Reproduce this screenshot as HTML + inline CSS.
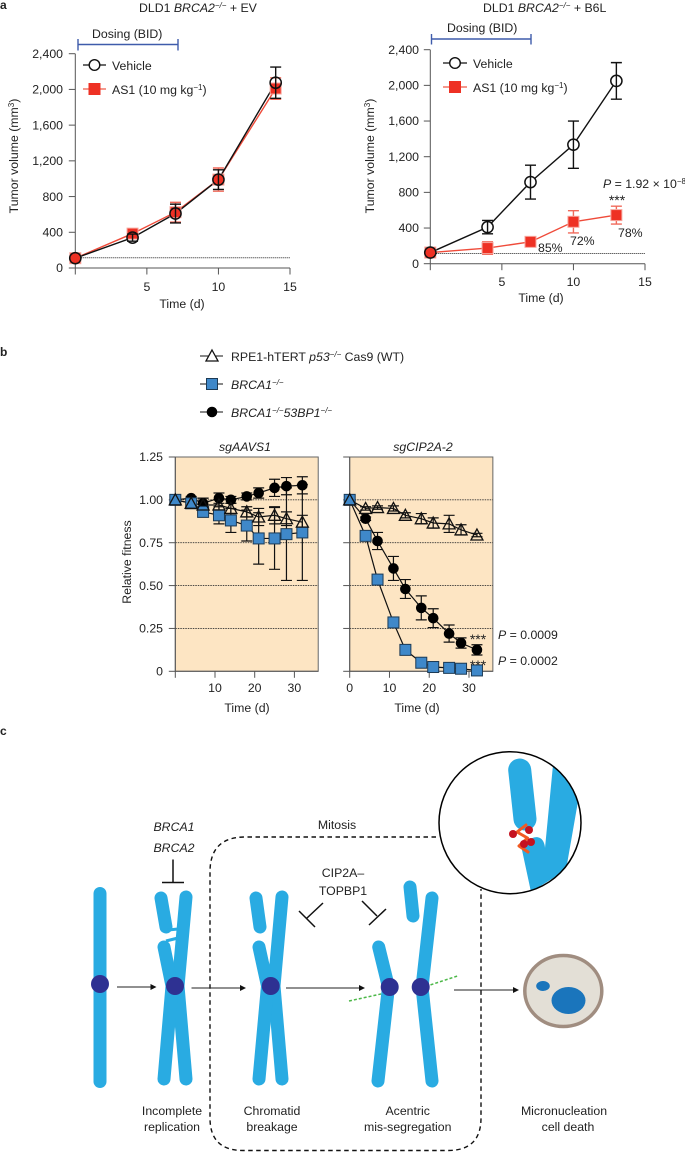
<!DOCTYPE html>
<html lang="en">
<head>
<meta charset="utf-8">
<title>Tumor volume, relative fitness and mitosis model figure</title>
<style>
html,body{margin:0;padding:0;background:#fff;}
body{width:685px;height:1152px;overflow:hidden;}
svg{display:block;font-family:"Liberation Sans",sans-serif;font-size:12.3px;fill:#222;}
text{fill:#222;}
.sup{font-size:8px;}
</style>
</head>
<body>
<svg id="fig" width="685" height="1152" viewBox="0 0 685 1152" xmlns="http://www.w3.org/2000/svg">
  <rect x="0" y="0" width="685" height="1152" fill="#fff"/>

  <text x="0" y="9" font-weight="bold" font-size="12">a</text>
  <text x="0" y="356" font-weight="bold" font-size="12">b</text>
  <text x="0" y="735" font-weight="bold" font-size="12">c</text>

  <text x="139" y="12">DLD1 <tspan font-style="italic">BRCA2</tspan><tspan class="sup" dy="-4" font-style="italic">−/−</tspan><tspan dy="4"> + EV</tspan></text>
  <text x="483" y="12">DLD1 <tspan font-style="italic">BRCA2</tspan><tspan class="sup" dy="-4" font-style="italic">−/−</tspan><tspan dy="4"> + B6L</tspan></text>

  <text x="92" y="38">Dosing (BID)</text>
  <path d="M78 44.5H178M78 39V50.5M178 39V50.5" fill="none" stroke="#3f5cab" stroke-width="1.4"/>
  <text x="447" y="32">Dosing (BID)</text>
  <path d="M431.5 39H531M431.5 34V44.5M531 34V44.5" fill="none" stroke="#3f5cab" stroke-width="1.4"/>

  <text transform="translate(18 156) rotate(-90)" text-anchor="middle">Tumor volume (mm<tspan class="sup" dy="-4">3</tspan><tspan dy="4">)</tspan></text>
  <text transform="translate(374 156) rotate(-90)" text-anchor="middle">Tumor volume (mm<tspan class="sup" dy="-4">3</tspan><tspan dy="4">)</tspan></text>
  <text x="182" y="308" text-anchor="middle">Time (d)</text>
  <text x="541" y="302" text-anchor="middle">Time (d)</text>

  <g>
    <path d="M83 65H106" stroke="#111" stroke-width="1.3"/>
    <circle cx="94.5" cy="65" r="5.300" fill="#fff" stroke="#111" stroke-width="1.4"/>
    <text x="112" y="70">Vehicle</text>
    <path d="M83 89H106" stroke="#ef5a48" stroke-width="1.3"/>
    <rect x="88.500" y="83" width="12" height="12" fill="#ee3124"/>
    <text x="112" y="94">AS1 (10 mg kg<tspan class="sup" dy="-4">−1</tspan><tspan dy="4">)</tspan></text>
  </g>
  <g>
    <path d="M443 63H467" stroke="#111" stroke-width="1.3"/>
    <circle cx="455" cy="63" r="5.300" fill="#fff" stroke="#111" stroke-width="1.4"/>
    <text x="473" y="68">Vehicle</text>
    <path d="M443 87H467" stroke="#ef5a48" stroke-width="1.3"/>
    <rect x="449" y="81" width="12" height="12" fill="#ee3124"/>
    <text x="473" y="92">AS1 (10 mg kg<tspan class="sup" dy="-4">−1</tspan><tspan dy="4">)</tspan></text>
  </g>

  <text x="603" y="188"><tspan font-style="italic">P</tspan> = 1.92 × 10<tspan class="sup" dy="-4">−8</tspan></text>
  <text x="617" y="205" text-anchor="middle" font-size="14">***</text>
  <text x="538" y="252">85%</text>
  <text x="570" y="245">72%</text>
  <text x="618" y="237">78%</text>

  <g>
    <path d="M200 356H223" stroke="#111" stroke-width="1.1"/>
    <path d="M212 350L218 361H206Z" fill="#fff" stroke="#111" stroke-width="1.3"/>
    <text x="231" y="361">RPE1-hTERT <tspan font-style="italic">p53</tspan><tspan class="sup" dy="-4" font-style="italic">−/−</tspan><tspan dy="4"> Cas9 (WT)</tspan></text>
    <path d="M200 384H223" stroke="#111" stroke-width="1.1"/>
    <rect x="206.500" y="378.500" width="11" height="11" fill="#3f88c9" stroke="#1c3a55" stroke-width="1"/>
    <text x="231" y="389" font-style="italic">BRCA1<tspan class="sup" dy="-4">−/−</tspan></text>
    <path d="M200 412H223" stroke="#111" stroke-width="1.1"/>
    <circle cx="212" cy="412" r="5.300" fill="#000"/>
    <text x="231" y="417" font-style="italic">BRCA1<tspan class="sup" dy="-4">−/−</tspan><tspan dy="4">53BP1</tspan><tspan class="sup" dy="-4">−/−</tspan></text>
  </g>

  <text x="245" y="451" text-anchor="middle" font-style="italic">sgAAVS1</text>
  <text x="423" y="451" text-anchor="middle" font-style="italic">sgCIP2A-2</text>
  <text transform="translate(131 562) rotate(-90)" text-anchor="middle">Relative fitness</text>
  <text x="247" y="712" text-anchor="middle">Time (d)</text>
  <text x="417" y="712" text-anchor="middle">Time (d)</text>
  <g id="charts"></g>
  <text x="478" y="644" text-anchor="middle" font-size="14">***</text>
  <text x="478" y="670" text-anchor="middle" font-size="14">***</text>
  <text x="498" y="639"><tspan font-style="italic">P</tspan> = 0.0009</text>
  <text x="498" y="665"><tspan font-style="italic">P</tspan> = 0.0002</text>

  <!-- Panel c -->
  <g>
    <path d="M436 837H245Q210 837 210 872V1118Q210 1150.500 243 1150.500H448Q481 1150.500 481 1118V889" fill="none" stroke="#111" stroke-width="1.4" stroke-dasharray="4.500 3.500"/>
    <text x="337" y="829" text-anchor="middle">Mitosis</text>

    <g fill="none" stroke="#29abe2" stroke-width="13" stroke-linecap="round">
      <path d="M100 893.500V1081.500"/>
      <circle cx="100" cy="984" r="9" fill="#2e3192" stroke="none"/>
    </g>
    <g fill="none" stroke="#29abe2" stroke-width="13" stroke-linecap="round">
      <path d="M186 897L178 986L186 1079"/>
      <path d="M164 947L172 986L164 1079"/>
      <path d="M161 898L166 927"/>
      <path d="M168 930L178 929" stroke-width="3" stroke-linecap="butt"/>
      <path d="M166 941L178 938" stroke-width="3" stroke-linecap="butt"/>
      <circle cx="175" cy="986" r="9" fill="#2e3192" stroke="none"/>
    </g>
    <g fill="none" stroke="#29abe2" stroke-width="13" stroke-linecap="round">
      <path d="M282 897L274 986L282 1079"/>
      <path d="M259 947L267.500 986L259 1079"/>
      <path d="M256 898L260 927"/>
      <circle cx="270.700" cy="986" r="9" fill="#2e3192" stroke="none"/>
    </g>
    <path d="M349 1001L390 992" fill="none" stroke="#4cb848" stroke-width="1.500" stroke-dasharray="3 2"/>
    <path d="M421 988L459 975.500" fill="none" stroke="#4cb848" stroke-width="1.500" stroke-dasharray="3 2"/>
    <g fill="none" stroke="#29abe2" stroke-width="13" stroke-linecap="round">
      <path d="M378.700 947L388.500 987L378 1081"/>
      <path d="M432 898L422 987L432 1081"/>
      <path d="M410 887L413 916"/>
      <circle cx="389.700" cy="987" r="9" fill="#2e3192" stroke="none"/>
      <circle cx="420.700" cy="987" r="9" fill="#2e3192" stroke="none"/>
    </g>

    <g stroke="#222" stroke-width="1.1" fill="#111">
      <path d="M117 987H154"/>
      <path d="M156.500 987L150.500 984V990Z" stroke="none"/>
      <path d="M191.500 988H243"/>
      <path d="M246 988L240 985V991Z" stroke="none"/>
      <path d="M286 988H362"/>
      <path d="M365 988L359 985V991Z" stroke="none"/>
      <path d="M454 990H516"/>
      <path d="M519 990L513 987V993Z" stroke="none"/>
    </g>

    <g fill="none" stroke="#111" stroke-width="1.500">
      <path d="M173 859.500V882M162 882.500H184"/>
      <path d="M323 903L307 918M299 911L315 927"/>
      <path d="M362 901L377 916M386 909L369 925"/>
    </g>

    <text x="174" y="831" text-anchor="middle" font-style="italic">BRCA1</text>
    <text x="174" y="852" text-anchor="middle" font-style="italic">BRCA2</text>
    <text x="343" y="877" text-anchor="middle">CIP2A–</text>
    <text x="343" y="895" text-anchor="middle">TOPBP1</text>

    <clipPath id="zoomClip"><circle cx="510" cy="822.700" r="71"/></clipPath>
    <circle cx="510" cy="822.700" r="71" fill="#fff"/>
    <g clip-path="url(#zoomClip)">
      <path d="M519.700 770L525 819" fill="none" stroke="#29abe2" stroke-width="23" stroke-linecap="round"/>
      <path d="M553 765L580 790L566 870L531 892L522 850C526 840 534 835 540 838C544 840 545 846 545 848Z" fill="#29abe2"/>
      <path d="M526 825L517 832L527.500 838L519 846L528 852" fill="none" stroke="#f15a22" stroke-width="3" stroke-linejoin="round" stroke-linecap="round"/>
      <circle cx="513" cy="834" r="4" fill="#c4121f"/>
      <circle cx="529" cy="830" r="4" fill="#c4121f"/>
      <circle cx="531" cy="842" r="4" fill="#c4121f"/>
      <circle cx="524" cy="844" r="4" fill="#c4121f"/>
    </g>
    <circle cx="510" cy="822.700" r="71" fill="none" stroke="#000" stroke-width="1.500"/>

    <g>
      <ellipse cx="563.300" cy="991" rx="38.500" ry="35.500" fill="#e3dfd6" stroke="#a08d80" stroke-width="3.500"/>
      <ellipse cx="568.500" cy="1000.500" rx="17" ry="13.500" fill="#1a75bc"/>
      <ellipse cx="543" cy="986" rx="6.800" ry="5" fill="#1a75bc"/>
    </g>

    <text x="172" y="1115" text-anchor="middle">Incomplete</text>
    <text x="172" y="1131" text-anchor="middle">replication</text>
    <text x="272" y="1115" text-anchor="middle">Chromatid</text>
    <text x="272" y="1131" text-anchor="middle">breakage</text>
    <text x="407.700" y="1115" text-anchor="middle">Acentric</text>
    <text x="407.700" y="1131" text-anchor="middle">mis-segregation</text>
    <text x="564" y="1115" text-anchor="middle">Micronucleation</text>
    <text x="568" y="1131" text-anchor="middle">cell death</text>
  </g>
</svg>

<script>
// Panel a values
const a1Days = [0, 4, 7, 10, 14];
const a1VehicleMean = [110, 340, 610, 990, 2075];
const a1VehicleErr = [0, 40, 105, 110, 175];
const a1As1Mean = [110, 385, 625, 990, 2010];
const a1As1Err = [20, 40, 110, 130, 120];
const a2Days = [0, 4, 7, 10, 13];
const a2VehicleMean = [125, 410, 915, 1335, 2050];
const a2VehicleErr = [0, 75, 190, 265, 205];
const a2As1Mean = [125, 175, 245, 470, 545];
const a2As1Err = [40, 70, 30, 125, 100];
const aBaseline = 115;
const aYTicks = [0, 400, 800, 1200, 1600, 2000, 2400];
const aYTickLabels = ['0', '400', '800', '1,200', '1,600', '2,000', '2,400'];
const aXTicks = [0, 5, 10, 15];
const aXTickLabels = ['', '5', '10', '15'];

// Panel b values
const bDays = [0, 4, 7, 11, 14, 18, 21, 25, 28, 32];
const b1WtMean = [1, 0.98, 0.97, 0.97, 0.95, 0.93, 0.90, 0.91, 0.89, 0.87];
const b1WtErr = [0, 0.02, 0.04, 0.03, 0.03, 0.03, 0.05, 0.05, 0.04, 0.04];
const b1BrcaMean = [1, 0.98, 0.93, 0.91, 0.88, 0.85, 0.775, 0.775, 0.80, 0.81];
const b1BrcaErr = [0, 0.02, 0.03, 0.05, 0.07, 0.09, 0.15, 0.18, 0.27, 0.28];
const b1DoubleMean = [1, 1.01, 0.98, 1.01, 1.0, 1.02, 1.04, 1.07, 1.08, 1.085];
const b1DoubleErr = [0, 0.01, 0.03, 0.03, 0.02, 0.02, 0.03, 0.05, 0.05, 0.05];
const b2WtMean = [1, 0.95, 0.955, 0.95, 0.91, 0.89, 0.865, 0.86, 0.825, 0.795];
const b2WtErr = [0, 0.01, 0.01, 0.015, 0.015, 0.03, 0.03, 0.05, 0.03, 0.01];
const b2BrcaMean = [1, 0.79, 0.535, 0.285, 0.125, 0.05, 0.025, 0.02, 0.015, 0.005];
const b2BrcaErr = [0, 0, 0, 0, 0, 0, 0, 0, 0, 0];
const b2DoubleMean = [1, 0.89, 0.76, 0.60, 0.48, 0.37, 0.31, 0.22, 0.165, 0.125];
const b2DoubleErr = [0, 0.01, 0.05, 0.07, 0.055, 0.07, 0.055, 0.05, 0.03, 0.03];
const bGridValues = [0.25, 0.5, 0.75, 1];
const bYTicks = [0, 0.25, 0.5, 0.75, 1, 1.25];
const bYTickLabels = ['0', '0.25', '0.50', '0.75', '1.00', '1.25'];
const bXTicks = [0, 10, 20, 30];
const b1XTickLabels = ['', '10', '20', '30'];
const b2XTickLabels = ['0', '10', '20', '30'];

const NS = 'http://www.w3.org/2000/svg';
const root = document.getElementById('charts');

function make(tag, parent, attrs, content) {
  const node = document.createElementNS(NS, tag);
  for (const key in attrs) node.setAttribute(key, attrs[key]);
  if (content !== undefined) node.textContent = content;
  parent.appendChild(node);
  return node;
}
function linear(d0, d1, r0, r1) {
  return function (v) { return r0 + (v - d0) * (r1 - r0) / (d1 - d0); };
}
function linePath(xs, ys, sx, sy) {
  return xs.map(function (x, i) { return (i ? 'L' : 'M') + sx(x).toFixed(2) + ' ' + sy(ys[i]).toFixed(2); }).join('');
}
function drawLine(parent, xs, ys, sx, sy, color, width, name) {
  const line = make('path', parent, { d: linePath(xs, ys, sx, sy), fill: 'none', stroke: color, 'stroke-width': width });
  
  
}
function drawErrors(parent, xs, ys, errs, sx, sy, color, capHalf, width, name) {
  xs.forEach(function (x, i) {
    if (!errs[i]) return;
    const px = sx(x), top = sy(ys[i] + errs[i]), low = sy(ys[i] - errs[i]);
    const bar = make('path', parent, {
      d: 'M' + px + ' ' + top + 'V' + low + 'M' + (px - capHalf) + ' ' + top + 'H' + (px + capHalf) + 'M' + (px - capHalf) + ' ' + low + 'H' + (px + capHalf),
      fill: 'none', stroke: color, 'stroke-width': width
    });
    
    
  });
}
function drawCircles(parent, xs, ys, sx, sy, r, fill, stroke, strokeWidth, name) {
  xs.forEach(function (x, i) {
    const dot = make('circle', parent, { cx: sx(x), cy: sy(ys[i]), r: r, fill: fill, stroke: stroke, 'stroke-width': strokeWidth });
    
    
  });
}
function drawSquares(parent, xs, ys, sx, sy, size, fill, stroke, name) {
  xs.forEach(function (x, i) {
    const sq = make('rect', parent, { x: sx(x) - size / 2, y: sy(ys[i]) - size / 2, width: size, height: size, fill: fill, stroke: stroke, 'stroke-width': 1 });
    
    
  });
}
function drawTriangles(parent, xs, ys, sx, sy, name) {
  xs.forEach(function (x, i) {
    const px = sx(x), py = sy(ys[i]);
    const tri = make('path', parent, { d: 'M' + px + ' ' + (py - 6) + 'L' + (px + 6) + ' ' + (py + 5) + 'H' + (px - 6) + 'Z', fill: 'none', stroke: '#111', 'stroke-width': 1.3 });
    
    
  });
}
function drawAxes(parent, sx, sy, xTicks, xLabels, yTicks, yLabels, yLabelAxis, prefix, xBase, labelY, showYLabels) {
  const axisColor = '#555';
  const x0 = sx(xTicks[0]);
  const y0 = sy(yTicks[0]);
  const yTop = sy(yTicks[yTicks.length - 1]);
  const xRight = xBase;
  const yAxis = make('path', parent, { d: 'M' + x0 + ' ' + yTop + 'V' + y0, stroke: axisColor, 'stroke-width': 1, fill: 'none' });
  
  
  const xAxis = make('path', parent, { d: 'M' + x0 + ' ' + y0 + 'H' + xRight, stroke: axisColor, 'stroke-width': 1, fill: 'none' });
  
  
  yTicks.forEach(function (v, i) {
    const tick = make('path', parent, { d: 'M' + (x0 - 6.5) + ' ' + sy(v) + 'H' + x0, stroke: axisColor, 'stroke-width': 1 });
    
    
    if (showYLabels) {
      const label = make('text', parent, { x: yLabelAxis, y: sy(v) + 4.2, 'text-anchor': 'end' }, yLabels[i]);
      
      
    }
  });
  xTicks.forEach(function (v, i) {
    const tick = make('path', parent, { d: 'M' + sx(v) + ' ' + y0 + 'V' + (y0 + 6.5), stroke: axisColor, 'stroke-width': 1 });
    
    
    if (xLabels[i]) {
      const label = make('text', parent, { x: sx(v), y: labelY, 'text-anchor': 'middle' }, xLabels[i]);
      
      
    }
  });
}

function drawTumorChart(prefix, days, vMean, vErr, aMean, aErr, sx, sy, yLabelX, xLabelY) {
  const g = make('g', root, {});
  
  
  drawAxes(g, sx, sy, aXTicks, aXTickLabels, aYTicks, aYTickLabels, yLabelX, prefix, sx(15), xLabelY, true);
  const base = make('path', g, { d: 'M' + sx(0) + ' ' + sy(aBaseline) + 'H' + sx(15), stroke: '#222', 'stroke-width': 1, 'stroke-dasharray': '1 1', fill: 'none' });
  
  
  drawLine(g, days, aMean, sx, sy, '#ef4b3a', 1.4, prefix + '-as1-line');
  drawLine(g, days, vMean, sx, sy, '#111', 1.4, prefix + '-vehicle-line');
  drawCircles(g, days, vMean, sx, sy, 5.6, '#fff', 'none', 0, prefix + '-vehicle-disc');
  drawErrors(g, days, aMean, aErr, sx, sy, '#f0695a', 5.5, 1.4, prefix + '-as1-error');
  drawSquares(g, days, aMean, sx, sy, 11, '#ee3124', '#f7a79e', prefix + '-as1-point');
  drawErrors(g, days, vMean, vErr, sx, sy, '#111', 5.5, 1.4, prefix + '-vehicle-error');
  drawCircles(g, days, vMean, sx, sy, 5.6, 'none', '#111', 1.5, prefix + '-vehicle-point');
}

function drawFitnessChart(prefix, wt, wtErr, brca, brcaErr, dbl, dblErr, sx, sy, xLabels, showYLabels) {
  const g = make('g', root, {});
  
  
  const bg = make('rect', g, { x: sx(0), y: sy(1.25), width: sx(36) - sx(0), height: sy(0) - sy(1.25), fill: '#fde5c3', stroke: '#666', 'stroke-width': 1 });
  
  
  bGridValues.forEach(function (v) {
    const grid = make('path', g, { d: 'M' + sx(0) + ' ' + sy(v) + 'H' + sx(36), stroke: '#333', 'stroke-width': 0.9, 'stroke-dasharray': '1.5 1', fill: 'none' });
    
    
  });
  drawAxes(g, sx, sy, bXTicks, xLabels, bYTicks, bYTickLabels, 163, prefix, sx(36), 692, showYLabels);
  drawLine(g, bDays, dbl, sx, sy, '#111', 1.2, prefix + '-double-line');
  drawLine(g, bDays, brca, sx, sy, '#111', 1.2, prefix + '-brca1-line');
  drawLine(g, bDays, wt, sx, sy, '#111', 1.2, prefix + '-wt-line');
  drawErrors(g, bDays, dbl, dblErr, sx, sy, '#111', 5.5, 1.2, prefix + '-double-error');
  drawErrors(g, bDays, wt, wtErr, sx, sy, '#111', 5.5, 1.2, prefix + '-wt-error');
  drawErrors(g, bDays, brca, brcaErr, sx, sy, '#111', 5.5, 1.2, prefix + '-brca1-error');
  drawCircles(g, bDays, dbl, sx, sy, 5.3, '#000', 'none', 0, prefix + '-double-point');
  drawSquares(g, bDays, brca, sx, sy, 11, '#3f88c9', '#1c3a55', prefix + '-brca1-point');
  drawTriangles(g, bDays, wt, sx, sy, prefix + '-wt-point');
}

drawTumorChart('a1', a1Days, a1VehicleMean, a1VehicleErr, a1As1Mean, a1As1Err,
  linear(0, 15, 75.3, 290), linear(0, 2400, 268, 53.7), 63, 291);
drawTumorChart('a2', a2Days, a2VehicleMean, a2VehicleErr, a2As1Mean, a2As1Err,
  linear(0, 15, 430.3, 645), linear(0, 2400, 263.7, 49.7), 419, 286);

drawFitnessChart('b1', b1WtMean, b1WtErr, b1BrcaMean, b1BrcaErr, b1DoubleMean, b1DoubleErr,
  linear(0, 30, 175.3, 294.4), linear(0, 1.25, 671.3, 457), b1XTickLabels, true);
drawFitnessChart('b2', b2WtMean, b2WtErr, b2BrcaMean, b2BrcaErr, b2DoubleMean, b2DoubleErr,
  linear(0, 30, 349.7, 469), linear(0, 1.25, 671.3, 457), b2XTickLabels, false);
</script>
</body>
</html>
